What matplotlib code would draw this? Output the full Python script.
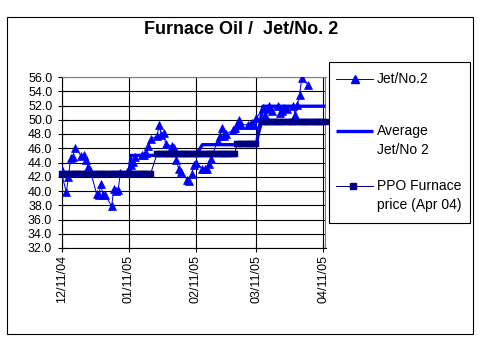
import matplotlib
matplotlib.use("Agg")
import matplotlib.pyplot as plt
import matplotlib.dates as mdates
from matplotlib.lines import Line2D
from matplotlib.patches import Rectangle
import pandas as pd

plt.rcParams['font.family'] = ['Liberation Sans', 'DejaVu Sans']

# --- data -------------------------------------------------------------
jet_dates = [
    '2004-12-10', '2004-12-13', '2004-12-14', '2004-12-15', '2004-12-16', '2004-12-17',
    '2004-12-20', '2004-12-21', '2004-12-22', '2004-12-23', '2004-12-24',
    '2004-12-27', '2004-12-28', '2004-12-29', '2004-12-30', '2004-12-31',
    '2005-01-03', '2005-01-04', '2005-01-05', '2005-01-06', '2005-01-07',
    '2005-01-10', '2005-01-11', '2005-01-12', '2005-01-13', '2005-01-14',
    '2005-01-17', '2005-01-18', '2005-01-19', '2005-01-20', '2005-01-21',
    '2005-01-24', '2005-01-25', '2005-01-26', '2005-01-27', '2005-01-28',
    '2005-01-31', '2005-02-01', '2005-02-02', '2005-02-03', '2005-02-04',
    '2005-02-07', '2005-02-08', '2005-02-09', '2005-02-10', '2005-02-11',
    '2005-02-14', '2005-02-15', '2005-02-16', '2005-02-17', '2005-02-18',
    '2005-02-21', '2005-02-22', '2005-02-23', '2005-02-24', '2005-02-25',
    '2005-02-28', '2005-03-01', '2005-03-02', '2005-03-03', '2005-03-04',
    '2005-03-07', '2005-03-08', '2005-03-09', '2005-03-10', '2005-03-11',
    '2005-03-14', '2005-03-15', '2005-03-16', '2005-03-17', '2005-03-18',
    '2005-03-21', '2005-03-22', '2005-03-23', '2005-03-24', '2005-03-25',
    '2005-03-28', '2005-03-29', '2005-03-30', '2005-03-31', '2005-04-01',
    '2005-04-04',
]
jet_values = [
    43.5, 39.8, 42.0, 44.7, 44.8, 46.0,
    44.9, 45.0, 44.3, 43.4, 43.0,
    39.6, 39.4, 41.0, 39.4, 39.4,
    37.9, 40.3, 40.0, 40.1, 42.5,
    42.6, 43.0, 43.6, 44.1, 44.8,
    45.0, 45.0, 45.3, 46.3, 47.3,
    47.7, 49.3, 47.9, 48.2, 46.6,
    46.3, 46.0, 44.3, 43.1, 42.7,
    41.6, 41.4, 42.4, 43.6, 44.0,
    43.1, 43.1, 43.1, 43.8, 44.5,
    47.0, 47.7, 48.9, 47.7, 48.0,
    48.5, 48.9, 49.3, 50.0, 49.3,
    49.3, 49.3, 49.5, 49.3, 50.2,
    51.7, 50.7, 51.5, 51.9, 51.2,
    51.9, 51.0, 51.2, 51.7, 51.5,
    51.9, 50.7, 52.1, 53.5, 55.8,
    54.9,
]

# monthly average of Jet/No 2 (period start, period end, value)
avg_starts = ['2004-12-10', '2005-01-12', '2005-02-14', '2005-03-14']
avg_ends = ['2005-01-11', '2005-02-11', '2005-03-11', '2005-04-12']
avg_values = [42.4, 45.0, 46.5, 51.9]

# PPO furnace price (Apr 04 basis)
ppo_starts = ['2004-12-11', '2005-01-24', '2005-03-02', '2005-03-14']
ppo_ends = ['2005-01-21', '2005-03-01', '2005-03-11', '2005-04-12']
ppo_values = [42.4, 45.2, 46.6, 49.7]

y_ticks = [32, 34, 36, 38, 40, 42, 44, 46, 48, 50, 52, 54, 56]
x_ticks = ['2004-12-11', '2005-01-11', '2005-02-11', '2005-03-11', '2005-04-11']

# --- build plotted series ----------------------------------------------
jet_x = pd.to_datetime(jet_dates)

avg_x, avg_y = [], []
for s, e, v in zip(avg_starts, avg_ends, avg_values):
    avg_x += [pd.Timestamp(s), pd.Timestamp(e)]
    avg_y += [v, v]

ppo_x, ppo_y = [], []
for s, e, v in zip(ppo_starts, ppo_ends, ppo_values):
    days = pd.date_range(s, e, freq='D')
    ppo_x += list(days)
    ppo_y += [v] * len(days)

# --- figure -------------------------------------------------------------
W, H = 478, 341
fig = plt.figure(figsize=(W / 100, H / 100), dpi=100)

def fx(px):
    return px / W

def fy(py):
    return 1 - py / H

ax = fig.add_axes([fx(62), fy(248), fx(325.5) - fx(62), fy(77) - fy(248)])

BLUE = '#0000FF'
NAVY = '#000080'

ax.plot(jet_x, jet_values, color=BLUE, lw=0.75, marker='^', ms=6,
        mfc=BLUE, mec=BLUE, mew=0.5, zorder=3)
ax.plot(avg_x, avg_y, color=BLUE, lw=2.4, solid_capstyle='butt', zorder=4,
        clip_on=False)
ax.plot(ppo_x, ppo_y, color=NAVY, lw=0.75, marker='s', ms=5,
        mfc=NAVY, mec=NAVY, mew=0.3, zorder=5, clip_on=False)

ax.set_ylim(32, 56)
ax.set_xlim(pd.Timestamp('2004-12-11'), pd.Timestamp('2005-04-12'))
ax.set_yticks(y_ticks)
ax.set_yticklabels([f'{v:.1f}' for v in y_ticks])
ax.set_xticks(pd.to_datetime(x_ticks))
ax.xaxis.set_major_formatter(mdates.DateFormatter('%m/%d/%y'))
for lab in ax.get_xticklabels():
    lab.set_rotation(90)

ax.tick_params(axis='both', direction='inout', length=6, width=0.8,
               colors='black', labelsize=9)
ax.tick_params(axis='y', pad=4)
ax.tick_params(axis='x', pad=2)

ax.grid(True, color='black', lw=0.8)
ax.set_axisbelow(True)
for side in ('left', 'bottom'):
    ax.spines[side].set_color('black')
    ax.spines[side].set_linewidth(0.8)
for side in ('top', 'right'):
    ax.spines[side].set_color('#808080')
    ax.spines[side].set_linewidth(0.8)

# title
fig.text(fx(241), fy(30), 'Furnace Oil /  Jet/No. 2', ha='center', va='center',
         fontsize=13, fontweight='bold')

# outer chart frame
fig.patches.append(Rectangle((fx(7), fy(334)), fx(473) - fx(7), fy(17) - fy(334),
                             transform=fig.transFigure, fill=False,
                             edgecolor='black', lw=0.8))

# legend
fig.patches.append(Rectangle((fx(329), fy(223)), fx(470) - fx(329), fy(62) - fy(223),
                             transform=fig.transFigure, fill=True, facecolor='white',
                             edgecolor='black', lw=0.8, zorder=10))
leg_x0, leg_x1, txt_x = 336, 373, 377
fs = 10
fig.add_artist(Line2D([fx(leg_x0), fx(leg_x1)], [fy(79), fy(79)], color=BLUE, lw=0.75,
                      transform=fig.transFigure, zorder=11))
fig.add_artist(Line2D([fx(354.5)], [fy(79)], color=BLUE, marker='^', ms=6, lw=0,
                      transform=fig.transFigure, zorder=11))
fig.text(fx(txt_x), fy(79), 'Jet/No.2', ha='left', va='center', fontsize=fs, zorder=12)

fig.add_artist(Line2D([fx(leg_x0), fx(leg_x1)], [fy(131), fy(131)], color=BLUE, lw=2.4,
                      solid_capstyle='butt', transform=fig.transFigure, zorder=11))
fig.text(fx(txt_x), fy(131), 'Average', ha='left', va='center', fontsize=fs, zorder=12)
fig.text(fx(txt_x), fy(150), 'Jet/No 2', ha='left', va='center', fontsize=fs, zorder=12)

fig.add_artist(Line2D([fx(leg_x0), fx(leg_x1)], [fy(186), fy(186)], color=NAVY, lw=0.75,
                      transform=fig.transFigure, zorder=11))
fig.add_artist(Line2D([fx(353)], [fy(186)], color=NAVY, marker='s', ms=5, lw=0,
                      transform=fig.transFigure, zorder=11))
fig.text(fx(txt_x), fy(186), 'PPO Furnace', ha='left', va='center', fontsize=fs, zorder=12)
fig.text(fx(txt_x), fy(205), 'price (Apr 04)', ha='left', va='center', fontsize=fs, zorder=12)

fig.savefig('out.png', dpi=100)
